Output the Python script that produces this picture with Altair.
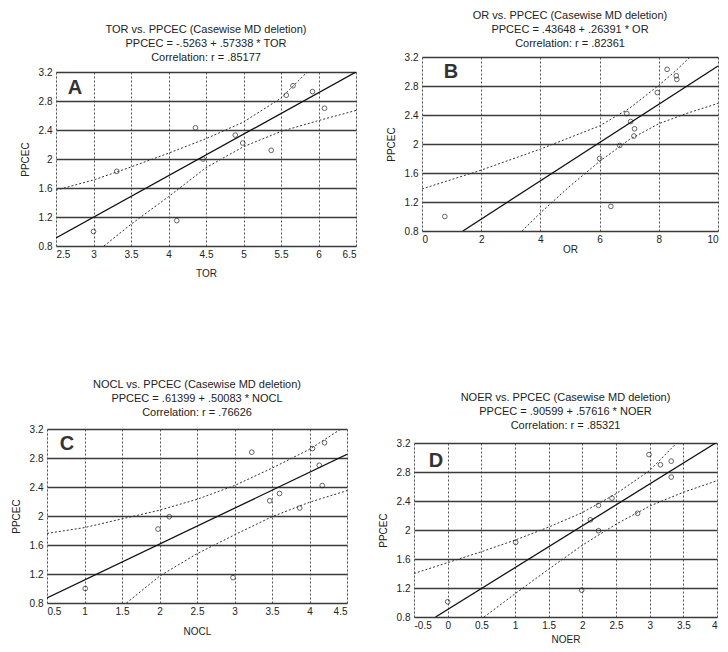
import altair as alt
import pandas as pd

FONT = "Liberation Sans"
Y_TICKS = [0.8, 1.2, 1.6, 2.0, 2.4, 2.8, 3.2]
Y_DOM = [0.8, 3.2]

# ---------------- Panel A ----------------
A_TITLE = ["TOR vs. PPCEC (Casewise MD deletion)",
           "PPCEC = -.5263 + .57338 * TOR", "Correlation: r = .85177"]
A_XNAME = "TOR"
A_X_TICKS = [2.5, 3, 3.5, 4, 4.5, 5, 5.5, 6, 6.5]
A_X_DOM = [2.5, 6.5]
A_PX = [3.00, 3.31, 4.11, 4.36, 4.46, 4.89, 4.99, 5.37, 5.57, 5.66, 5.92, 6.08]
A_PY = [1.00, 1.83, 1.15, 2.43, 2.00, 2.33, 2.22, 2.12, 2.88, 3.01, 2.93, 2.70]
A_FIT_X = [2.5, 6.5]
A_FIT_Y = [0.91, 3.20]
A_UP_X = [2.5, 3.0, 3.5, 4.0, 4.5, 5.0, 5.5, 5.85]
A_UP_Y = [1.57, 1.71, 1.89, 2.08, 2.28, 2.51, 2.84, 3.20]
A_LO_X = [3.14, 3.5, 4.0, 4.5, 5.0, 5.5, 6.0, 6.5]
A_LO_Y = [0.80, 1.10, 1.48, 1.88, 2.17, 2.38, 2.53, 2.67]

# ---------------- Panel B ----------------
B_TITLE = ["OR vs. PPCEC (Casewise MD deletion)",
           "PPCEC = .43648 + .26391 * OR", "Correlation: r = .82361"]
B_XNAME = "OR"
B_X_TICKS = [0, 2, 4, 6, 8, 10]
B_X_DOM = [0, 10]
B_PX = [0.77, 6.00, 6.38, 6.68, 6.92, 7.05, 7.18, 7.16, 7.95, 8.28, 8.59, 8.61]
B_PY = [1.00, 1.80, 1.14, 1.98, 2.42, 2.31, 2.21, 2.11, 2.71, 3.03, 2.94, 2.89]
B_FIT_X = [1.38, 10.0]
B_FIT_Y = [0.80, 3.075]
B_UP_X = [0, 2, 4, 6, 7, 8, 8.6, 9.05]
B_UP_Y = [1.38, 1.64, 1.93, 2.25, 2.49, 2.81, 3.02, 3.20]
B_LO_X = [3.38, 4, 5, 6, 7, 8, 9, 10]
B_LO_Y = [0.80, 1.05, 1.42, 1.76, 2.06, 2.28, 2.43, 2.56]

# ---------------- Panel C ----------------
C_TITLE = ["NOCL vs. PPCEC (Casewise MD deletion)",
           "PPCEC = .61399 + .50083 * NOCL", "Correlation: r = .76626"]
C_XNAME = "NOCL"
C_X_TICKS = [0.5, 1, 1.5, 2, 2.5, 3, 3.5, 4, 4.5]
C_X_DOM = [0.5, 4.5]
C_PX = [1.01, 1.98, 2.13, 2.98, 3.23, 3.47, 3.60, 3.87, 4.04, 4.20, 4.13, 4.17]
C_PY = [1.00, 1.82, 1.99, 1.15, 2.88, 2.21, 2.31, 2.11, 2.93, 3.01, 2.70, 2.42]
C_FIT_X = [0.5, 4.5]
C_FIT_Y = [0.87, 2.85]
C_UP_X = [0.5, 1.0, 1.5, 2.0, 2.5, 3.0, 3.5, 4.0, 4.42]
C_UP_Y = [1.76, 1.84, 1.96, 2.08, 2.23, 2.42, 2.66, 2.92, 3.20]
C_LO_X = [1.56, 2.0, 2.5, 3.0, 3.5, 4.0, 4.5]
C_LO_Y = [0.80, 1.17, 1.48, 1.74, 1.99, 2.19, 2.35]

# ---------------- Panel D ----------------
D_TITLE = ["NOER vs. PPCEC (Casewise MD deletion)",
           "PPCEC = .90599 + .57616 * NOER", "Correlation: r = .85321"]
D_XNAME = "NOER"
D_X_TICKS = [-0.5, 0, 0.5, 1, 1.5, 2, 2.5, 3, 3.5, 4]
D_X_DOM = [-0.5, 4]
D_PX = [0.00, 1.01, 1.99, 2.12, 2.24, 2.24, 2.44, 2.82, 2.99, 3.16, 3.32, 3.32]
D_PY = [1.01, 1.83, 1.17, 2.14, 2.34, 1.99, 2.44, 2.23, 3.04, 2.90, 2.95, 2.73]
D_FIT_X = [-0.18, 3.98]
D_FIT_Y = [0.80, 3.20]
D_UP_X = [-0.5, 0, 0.5, 1.0, 1.5, 2.0, 2.5, 3.0, 3.4]
D_UP_Y = [1.40, 1.55, 1.70, 1.86, 2.04, 2.24, 2.50, 2.82, 3.20]
D_LO_X = [0.54, 1.0, 1.5, 2.0, 2.5, 3.0, 3.5, 4.0]
D_LO_Y = [0.80, 1.12, 1.46, 1.79, 2.08, 2.33, 2.52, 2.68]


def panel(title, xname, xticks, xdom, px, py, fx, fy, ux, uy, lx, ly,
          letter, width, toff, xtpad, lx_pix, ly_pix):
    pts = pd.DataFrame({"x": px, "y": py})
    fit = pd.DataFrame({"x": fx, "y": fy})
    up = pd.DataFrame({"x": ux, "y": uy})
    lo = pd.DataFrame({"x": lx, "y": ly})

    xenc = alt.X("x:Q", title=xname,
                 scale=alt.Scale(domain=xdom, nice=False, zero=False),
                 axis=alt.Axis(values=xticks, tickCount=40, labelOverlap=False,
                               labelExpr="datum.value + ''",
                               grid=True, gridColor="#555", gridDash=[2, 2],
                               gridWidth=1, ticks=False, domain=False,
                               labelPadding=3, titlePadding=xtpad,
                               labelFontSize=10, labelFont=FONT, labelColor="#222",
                               titleFontSize=10, titleFont=FONT,
                               titleFontWeight="normal", titleColor="#222"))
    yenc = alt.Y("y:Q", title="PPCEC",
                 scale=alt.Scale(domain=Y_DOM, nice=False, zero=False),
                 axis=alt.Axis(values=Y_TICKS, tickCount=40, labelOverlap=False,
                               labelExpr="datum.value + ''",
                               grid=True, gridColor="#3a3a3a", gridWidth=1.3,
                               ticks=False, domain=False,
                               labelPadding=4, titlePadding=8,
                               labelFontSize=10, labelFont=FONT, labelColor="#222",
                               titleFontSize=10, titleFont=FONT,
                               titleFontWeight="normal", titleColor="#222"))

    points = alt.Chart(pts).mark_point(shape="circle", filled=False, size=22,
                                       color="#222", strokeWidth=1).encode(x=xenc, y=yenc)
    fit_l = alt.Chart(fit).mark_line(color="#111", strokeWidth=1.3, clip=True).encode(
        x="x:Q", y="y:Q")
    up_l = alt.Chart(up).mark_line(color="#333", strokeWidth=1, strokeDash=[2, 2],
                                   clip=True).encode(x="x:Q", y="y:Q")
    lo_l = alt.Chart(lo).mark_line(color="#333", strokeWidth=1, strokeDash=[2, 2],
                                   clip=True).encode(x="x:Q", y="y:Q")
    lab = alt.Chart(pd.DataFrame({"t": [letter]})).mark_text(
        font=FONT, fontSize=20, fontWeight="bold", color="#333",
        align="center", baseline="middle").encode(
        x=alt.value(lx_pix), y=alt.value(ly_pix), text="t:N")

    return alt.layer(points, fit_l, up_l, lo_l, lab).properties(
        width=width, height=174,
        title=alt.TitleParams(text=title, fontSize=11, font=FONT, fontWeight="normal",
                              lineHeight=14, offset=toff, frame="group",
                              anchor="middle", color="#222"))


def spacer(w, h):
    # empty, invisible cell used only to offset a panel inside the grid
    return alt.Chart(pd.DataFrame({"v": [0]})).mark_rect(opacity=0).encode(
        x=alt.value(0), x2=alt.value(1),
        y=alt.value(0), y2=alt.value(1)).properties(
        width=w, height=h,
        view=alt.ViewBackground(stroke="transparent", strokeWidth=0))


def cell(p, dx, dy):
    row = alt.hconcat(spacer(dx, 1), p, spacing=0)
    return alt.vconcat(spacer(1, dy), row, spacing=0)


pA = panel(A_TITLE, A_XNAME, A_X_TICKS, A_X_DOM, A_PX, A_PY, A_FIT_X, A_FIT_Y,
           A_UP_X, A_UP_Y, A_LO_X, A_LO_Y, "A", 300, 4, 9, 19, 16)
pB = panel(B_TITLE, B_XNAME, B_X_TICKS, B_X_DOM, B_PX, B_PY, B_FIT_X, B_FIT_Y,
           B_UP_X, B_UP_Y, B_LO_X, B_LO_Y, "B", 296, 3, 0, 29, 15)
pC = panel(C_TITLE, C_XNAME, C_X_TICKS, C_X_DOM, C_PX, C_PY, C_FIT_X, C_FIT_Y,
           C_UP_X, C_UP_Y, C_LO_X, C_LO_Y, "C", 300, 6, 10, 20, 15)
pD = panel(D_TITLE, D_XNAME, D_X_TICKS, D_X_DOM, D_PX, D_PY, D_FIT_X, D_FIT_Y,
           D_UP_X, D_UP_Y, D_LO_X, D_LO_Y, "D", 303, 7, 4, 22, 18)

chart = alt.concat(cell(pA, 11, 15), cell(pB, 15, 1),
                   cell(pC, 2, 1), cell(pD, 7, 14),
                   columns=2, align="each",
                   spacing={"row": 98, "column": 13}).properties(
    padding={"left": 0, "top": 0, "right": 0, "bottom": 0},
    background="white",
).configure_view(stroke="#111", strokeWidth=1.2).configure(font=FONT)

chart.save("out.html", embed_options={"renderer": "svg", "actions": False})
